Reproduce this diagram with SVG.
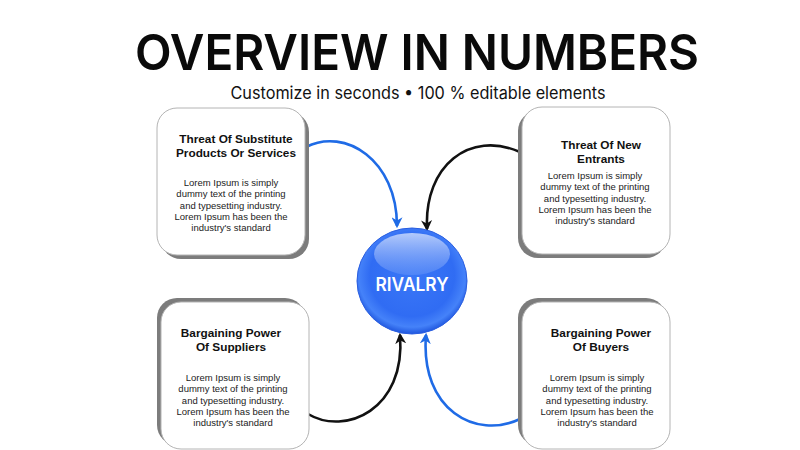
<svg xmlns="http://www.w3.org/2000/svg" width="800" height="450" viewBox="0 0 800 450">
<defs>
<style>
.title{font-family:Inter,"Liberation Sans",sans-serif;font-weight:600;font-size:50px;fill:#0a0a0a}
.sub{font-family:Inter,"Liberation Sans",sans-serif;font-weight:400;font-size:17px;fill:#111}
.box{fill:#fff;stroke:#b4b4b4;stroke-width:1}
.shadow{fill:#7c7c7c}
.h{font-family:"Liberation Sans",Arial,sans-serif;font-weight:700;font-size:11.8px;fill:#111;text-anchor:middle}
.b{font-family:"Liberation Sans",Arial,sans-serif;font-size:9.5px;fill:#222;text-anchor:middle}
.con{fill:none;stroke-width:2.6}
.blue{stroke:#1f6be6}
.black{stroke:#111}
.rv{font-family:Inter,"Liberation Sans",sans-serif;font-weight:600;font-size:18px;fill:#fff;text-anchor:middle}
</style>
<marker id="ab" viewBox="0 0 10 10" refX="8" refY="5" markerWidth="11" markerHeight="11" markerUnits="userSpaceOnUse" orient="auto">
<path d="M0,0 L10,5 L0,10 L3,5 z" fill="#1f6be6"/>
</marker>
<marker id="ak" viewBox="0 0 10 10" refX="8" refY="5" markerWidth="11" markerHeight="11" markerUnits="userSpaceOnUse" orient="auto">
<path d="M0,0 L10,5 L0,10 L3,5 z" fill="#111"/>
</marker>
<radialGradient id="sph" cx="50%" cy="45%" r="55%">
<stop offset="0%" stop-color="#3a77f7"/>
<stop offset="70%" stop-color="#306cf3"/>
<stop offset="88%" stop-color="#4582f9"/>
<stop offset="100%" stop-color="#1f56de"/>
</radialGradient>
<linearGradient id="hl" x1="0" y1="0" x2="0" y2="1">
<stop offset="0%" stop-color="#c3d5fc" stop-opacity="0.9"/>
<stop offset="100%" stop-color="#6b98f8" stop-opacity="0.45"/>
</linearGradient>
</defs>
<rect width="800" height="450" fill="#fff"/>
<text class="title" x="417" y="70" text-anchor="middle" textLength="564" lengthAdjust="spacingAndGlyphs">OVERVIEW IN NUMBERS</text>
<text class="sub" x="418" y="99" text-anchor="middle" textLength="375" lengthAdjust="spacingAndGlyphs">Customize in seconds • 100 % editable elements</text>

<g id="connectors">
<path class="con blue" d="M306,147 C345,127 397,160 397,226" marker-end="url(#ab)"/>
<path class="con black" d="M520,152 C470,130 424,165 427,229" marker-end="url(#ak)"/>
<path class="con black" d="M308,414 C345,436 406,410 400,335" marker-end="url(#ak)"/>
<path class="con blue" d="M520,419 C476,440 420,410 426,335" marker-end="url(#ab)"/>
</g>

<g id="node-substitute">
<rect class="shadow" x="161" y="112" width="148" height="147" rx="20"/>
<rect class="box" x="157" y="108" width="148" height="147" rx="20"/>
<text class="h" x="236" y="143">Threat Of Substitute</text>
<text class="h" x="236" y="157">Products Or Services</text>
<text class="b" x="231" y="186">Lorem Ipsum is simply</text>
<text class="b" x="231" y="197.3">dummy text of the printing</text>
<text class="b" x="231" y="208.6">and typesetting industry.</text>
<text class="b" x="231" y="219.9">Lorem Ipsum has been the</text>
<text class="b" x="231" y="231.2">industry's standard</text>
</g>

<g id="node-new-entrants">
<rect class="shadow" x="518" y="111" width="148" height="147" rx="20"/>
<rect class="box" x="522" y="107" width="148" height="147" rx="20"/>
<text class="h" x="601" y="148.5">Threat Of New</text>
<text class="h" x="601" y="162.5">Entrants</text>
<text class="b" x="595" y="179">Lorem Ipsum is simply</text>
<text class="b" x="595" y="190.3">dummy text of the printing</text>
<text class="b" x="595" y="201.6">and typesetting industry.</text>
<text class="b" x="595" y="212.9">Lorem Ipsum has been the</text>
<text class="b" x="595" y="224.2">industry's standard</text>
</g>

<g id="node-suppliers">
<rect class="shadow" x="157" y="298" width="148" height="147" rx="20"/>
<rect class="box" x="161" y="302" width="148" height="147" rx="20"/>
<text class="h" x="231" y="337">Bargaining Power</text>
<text class="h" x="231" y="351">Of Suppliers</text>
<text class="b" x="233" y="381">Lorem Ipsum is simply</text>
<text class="b" x="233" y="392.3">dummy text of the printing</text>
<text class="b" x="233" y="403.6">and typesetting industry.</text>
<text class="b" x="233" y="414.9">Lorem Ipsum has been the</text>
<text class="b" x="233" y="426.2">industry's standard</text>
</g>

<g id="node-buyers">
<rect class="shadow" x="518" y="298" width="148" height="147" rx="20"/>
<rect class="box" x="522" y="302" width="148" height="147" rx="20"/>
<text class="h" x="601" y="337">Bargaining Power</text>
<text class="h" x="601" y="351">Of Buyers</text>
<text class="b" x="597" y="381">Lorem Ipsum is simply</text>
<text class="b" x="597" y="392.3">dummy text of the printing</text>
<text class="b" x="597" y="403.6">and typesetting industry.</text>
<text class="b" x="597" y="414.9">Lorem Ipsum has been the</text>
<text class="b" x="597" y="426.2">industry's standard</text>
</g>

<g id="node-rivalry">
<ellipse cx="412" cy="281" rx="55" ry="53" fill="url(#sph)" stroke="#2a5ee0" stroke-width="1"/>
<ellipse cx="412" cy="254" rx="38" ry="21" fill="url(#hl)"/>
<text class="rv" x="412" y="291" textLength="73" lengthAdjust="spacingAndGlyphs">RIVALRY</text>
</g>
</svg>
